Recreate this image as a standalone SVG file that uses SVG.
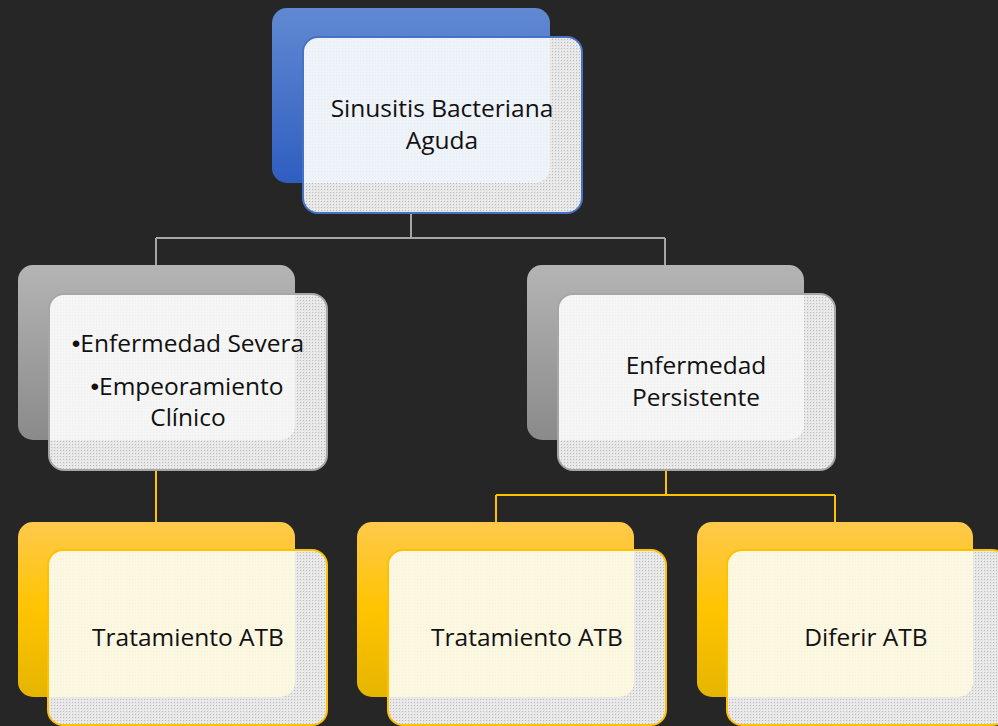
<svg xmlns="http://www.w3.org/2000/svg" width="998" height="726" viewBox="0 0 998 726">
<defs>
<style>
.t{font-family:"Open Sans","Liberation Sans",sans-serif;font-size:24.5px;fill:#111;text-anchor:middle}
.b{font-family:"Liberation Sans",sans-serif}
.fb{fill:none;stroke:#4472c4;stroke-width:2}
.fg{fill:none;stroke:#a6a6a6;stroke-width:2}
.fy{fill:none;stroke:#ffc000;stroke-width:2}
.cg{fill:none;stroke:#a6a6a6;stroke-width:2}
.cy{fill:none;stroke:#ffc000;stroke-width:2}
</style>
<linearGradient id="gb" x1="0" y1="0" x2="0" y2="1"><stop offset="0" stop-color="#6189d2"/><stop offset="1" stop-color="#2f5ec0"/></linearGradient>
<linearGradient id="gg" x1="0" y1="0" x2="0" y2="1"><stop offset="0" stop-color="#b4b4b4"/><stop offset="1" stop-color="#8a8a8a"/></linearGradient>
<linearGradient id="gy" x1="0" y1="0" x2="0" y2="1"><stop offset="0" stop-color="#ffc94c"/><stop offset="0.5" stop-color="#ffc400"/><stop offset="1" stop-color="#e5b500"/></linearGradient>
<pattern id="dots" width="3" height="3" patternUnits="userSpaceOnUse"><rect width="3" height="3" fill="#e6e6e6"/><rect width="1" height="1" fill="#bdbdbd"/><rect x="2" y="2" width="1" height="1" fill="#f4f4f4"/></pattern>
<clipPath id="c1"><rect x="303" y="37" width="279" height="176" rx="15"/></clipPath>
<clipPath id="c2"><rect x="49" y="294" width="278" height="176" rx="15"/></clipPath>
<clipPath id="c3"><rect x="558" y="294" width="277" height="176" rx="15"/></clipPath>
<clipPath id="c4"><rect x="48" y="550" width="279" height="175" rx="15"/></clipPath>
<clipPath id="c5"><rect x="388" y="550" width="278" height="175" rx="15"/></clipPath>
<clipPath id="c6"><rect x="727" y="550" width="280" height="175" rx="15"/></clipPath>
</defs>
<rect width="998" height="726" fill="#262626"/>
<g id="connectors">
<path class="cg" d="M411 200V238M156 238H665M156 238V266M665 238V266"/>
<path class="cy" d="M156 460V523M666 460V495M496 495H835M496 495V523M835 495V523"/>
</g>
<g id="n1">
<rect x="272" y="8" width="278" height="175" rx="15" fill="url(#gb)"/>
<rect x="303" y="37" width="279" height="176" rx="15" fill="url(#dots)"/>
<rect x="272" y="8" width="278" height="175" rx="15" fill="#eef3fb" fill-opacity="0.85" clip-path="url(#c1)"/>
<rect x="303" y="37" width="279" height="176" rx="15" class="fb"/>
<text class="t" x="442" y="117">Sinusitis Bacteriana</text>
<text class="t" x="442" y="149">Aguda</text>
</g>
<g id="n2">
<rect x="18" y="265" width="277" height="175" rx="15" fill="url(#gg)"/>
<rect x="49" y="294" width="278" height="176" rx="15" fill="url(#dots)"/>
<rect x="18" y="265" width="277" height="175" rx="15" fill="#f7f7f7" fill-opacity="0.85" clip-path="url(#c2)"/>
<rect x="49" y="294" width="278" height="176" rx="15" class="fg"/>
<text class="t" x="188" y="352"><tspan class="b">•</tspan>Enfermedad Severa</text>
<text class="t" x="187" y="395"><tspan class="b">•</tspan>Empeoramiento</text>
<text class="t" x="188" y="426">Clínico</text>
</g>
<g id="n3">
<rect x="527" y="265" width="277" height="175" rx="15" fill="url(#gg)"/>
<rect x="558" y="294" width="277" height="176" rx="15" fill="url(#dots)"/>
<rect x="527" y="265" width="277" height="175" rx="15" fill="#f7f7f7" fill-opacity="0.85" clip-path="url(#c3)"/>
<rect x="558" y="294" width="277" height="176" rx="15" class="fg"/>
<text class="t" x="696" y="374">Enfermedad</text>
<text class="t" x="696" y="406">Persistente</text>
</g>
<g id="n4">
<rect x="18" y="522" width="277" height="175" rx="15" fill="url(#gy)"/>
<rect x="48" y="550" width="279" height="175" rx="15" fill="url(#dots)"/>
<rect x="18" y="522" width="277" height="175" rx="15" fill="#fff9e0" fill-opacity="0.88" clip-path="url(#c4)"/>
<rect x="48" y="550" width="279" height="175" rx="15" class="fy"/>
<text class="t" x="188" y="646">Tratamiento ATB</text>
</g>
<g id="n5">
<rect x="357" y="522" width="277" height="175" rx="15" fill="url(#gy)"/>
<rect x="388" y="550" width="278" height="175" rx="15" fill="url(#dots)"/>
<rect x="357" y="522" width="277" height="175" rx="15" fill="#fff9e0" fill-opacity="0.88" clip-path="url(#c5)"/>
<rect x="388" y="550" width="278" height="175" rx="15" class="fy"/>
<text class="t" x="527" y="646">Tratamiento ATB</text>
</g>
<g id="n6">
<rect x="697" y="522" width="276" height="175" rx="15" fill="url(#gy)"/>
<rect x="727" y="550" width="280" height="175" rx="15" fill="url(#dots)"/>
<rect x="697" y="522" width="276" height="175" rx="15" fill="#fff9e0" fill-opacity="0.88" clip-path="url(#c6)"/>
<rect x="727" y="550" width="280" height="175" rx="15" class="fy"/>
<text class="t" x="866" y="646">Diferir ATB</text>
</g>
</svg>
